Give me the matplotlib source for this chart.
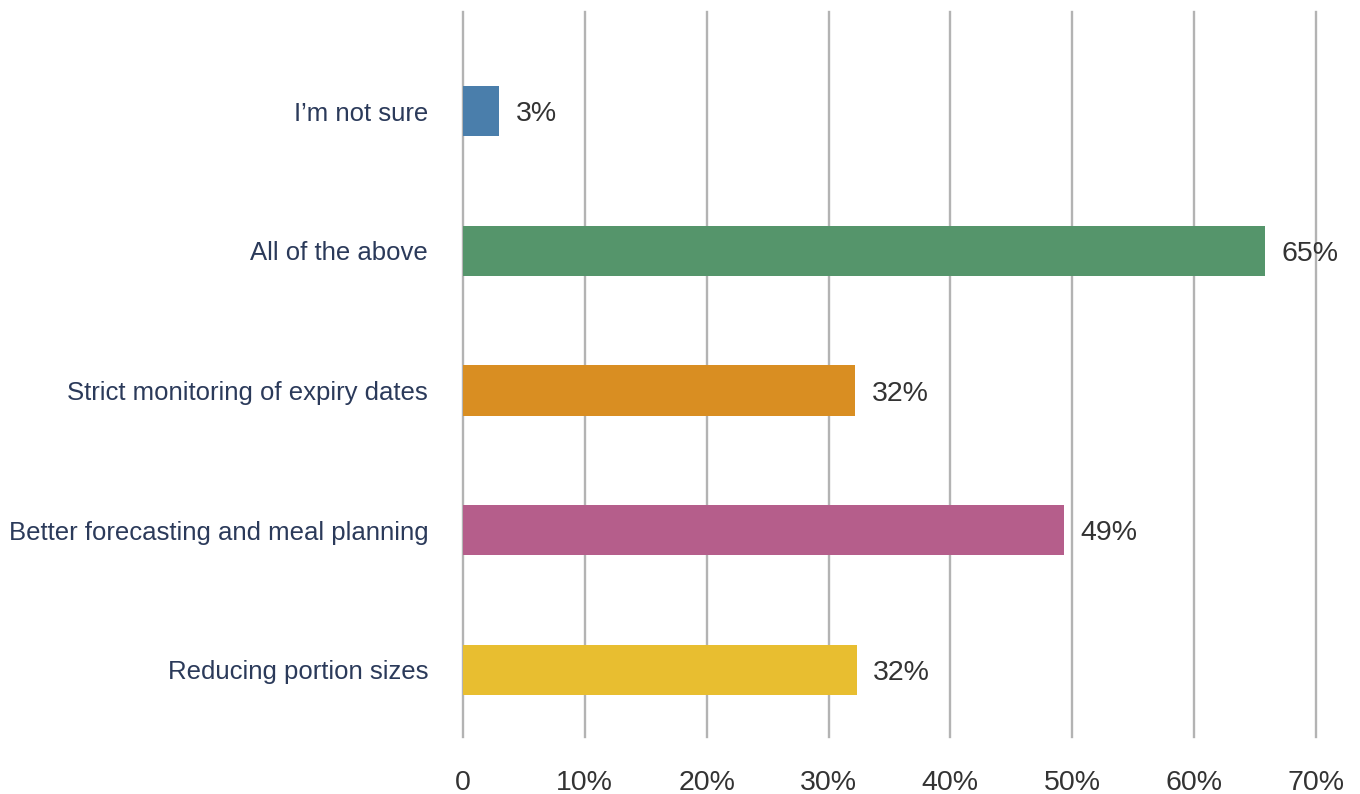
import matplotlib.pyplot as plt

plt.rcParams['font.family'] = ['Liberation Sans', 'DejaVu Sans']

## DATA
categories = ["Reducing portion sizes",
              "Better forecasting and meal planning",
              "Strict monitoring of expiry dates",
              "All of the above",
              "I\u2019m not sure"]
values = [32.3, 49.3, 32.2, 65.8, 2.95]
labels = ["32%", "49%", "32%", "65%", "3%"]
colors = ["#e8be30", "#b55e8b", "#d98e22", "#55956b", "#4a7eab"]
xticks = [0, 10, 20, 30, 40, 50, 60, 70]
xticklabels = ["0", "10%", "20%", "30%", "40%", "50%", "60%", "70%"]

## FIGURE
fig = plt.figure(figsize=(13.6, 7.94), dpi=100)
ax = fig.add_axes([0.3404, 0.0718, 0.9676 - 0.3404, 0.985 - 0.0718])

ypos = list(range(len(categories)))
ax.barh(ypos, values, height=0.36, color=colors, zorder=2)

#### VALUE LABELS
for y, v, lab in zip(ypos, values, labels):
    ax.annotate(lab, (v, y), xytext=(12, 0), textcoords='offset points',
                ha='left', va='center_baseline', fontsize=20.5,
                color='#333333', zorder=3)

ax.set_xlim(0, 70)
ax.set_ylim(-0.48, 4.71)
ax.set_xticks(xticks)
ax.set_xticklabels(xticklabels, fontsize=20.5, color='#333333')
ax.set_yticks(ypos)
ax.set_yticklabels(categories, fontsize=18.5, color='#2b3a5a')
ax.tick_params(axis='x', length=0, pad=24)
ax.tick_params(axis='y', length=0, pad=25)

ax.grid(axis='x', color='#b3b3b3', linewidth=1.7, zorder=0)
for gl in ax.get_xgridlines():
    gl.set_clip_on(False)
ax.set_axisbelow(True)
for s in ax.spines.values():
    s.set_visible(False)

fig.savefig('out.png', dpi=100, facecolor='white')
